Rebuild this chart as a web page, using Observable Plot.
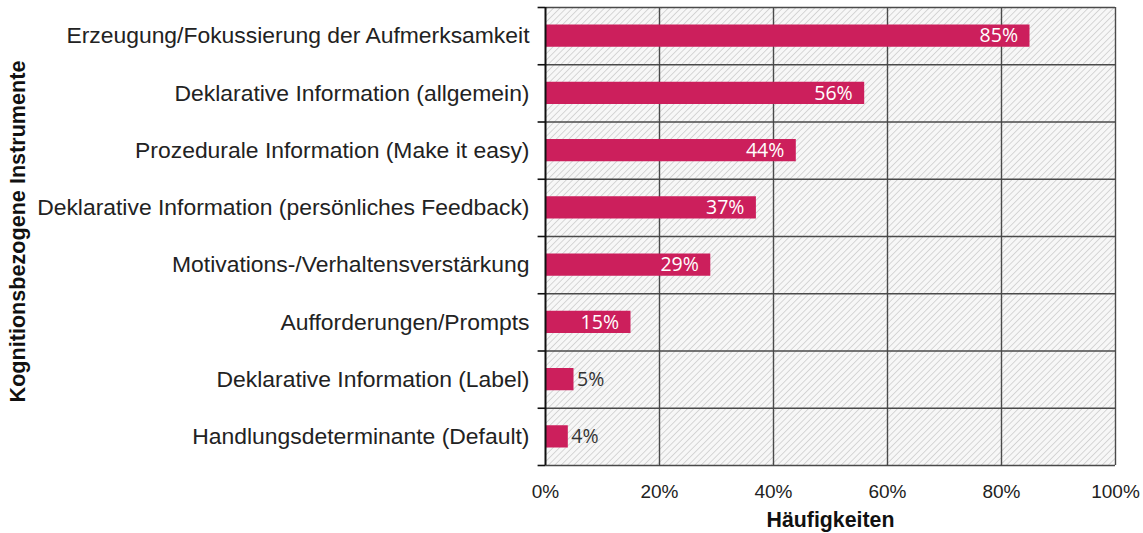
<!DOCTYPE html>
<html>
<head>
<meta charset="utf-8">
<script src="https://cdn.jsdelivr.net/npm/d3@7"></script>
<script src="https://cdn.jsdelivr.net/npm/@observablehq/plot@0.6"></script>
<style>
  html, body { margin: 0; padding: 0; background: #fff; }
  svg { display: block; }
</style>
</head>
<body>
<div id="chart"></div>
<script>
const categories = [
  "Erzeugung/Fokussierung der Aufmerksamkeit",
  "Deklarative Information (allgemein)",
  "Prozedurale Information (Make it easy)",
  "Deklarative Information (persönliches Feedback)",
  "Motivations-/Verhaltensverstärkung",
  "Aufforderungen/Prompts",
  "Deklarative Information (Label)",
  "Handlungsdeterminante (Default)"
];
const values = [85, 56, 44, 37, 29, 15, 5, 4];
const xTicks = [0, 20, 40, 60, 80, 100];
const xTitle = "Häufigkeiten";
const yTitle = "Kognitionsbezogene Instrumente";

const data = categories.map((c, i) => ({category: c, value: values[i], index: i}));
const boundaries = d3.range(categories.length + 1);
const centers = categories.map((c, i) => i + 0.5);

const barColor = "#cc1f5c";
const gridColor = "#4a4a4a";
const font = "'Liberation Sans', Arial, sans-serif";

const chart = Plot.plot({
  width: 1143,
  height: 533,
  marginLeft: 545,
  marginRight: 28,
  marginTop: 7,
  marginBottom: 68,
  style: {fontFamily: font, fontSize: "18px", color: "#222", background: "#fff"},
  x: {type: "linear", domain: [0, 100]},
  y: {type: "linear", domain: [0, categories.length], reverse: true},
  marks: [
    Plot.frame({fill: "url(#hatch)", stroke: "none"}),
    Plot.ruleX(xTicks.slice(1), {stroke: gridColor, strokeWidth: 1.4}),
    Plot.ruleY(boundaries, {stroke: gridColor, strokeWidth: 1.4}),
    Plot.ruleY(boundaries, {x1: -1.3, x2: 0, stroke: "#111", strokeWidth: 1.6}),
    Plot.rectX(data, {x1: 0, x2: "value", y1: "index", y2: d => d.index + 1, insetTop: 17.5, insetBottom: 17.5, fill: barColor}),
    Plot.ruleX([0], {stroke: "#111", strokeWidth: 2}),
    Plot.text(data.filter(d => d.value >= 15), {
      x: "value", y: d => d.index + 0.5, text: d => d.value + "%",
      textAnchor: "end", dx: -12, fill: "#fff",
      fontFamily: "'Open Sans', sans-serif", fontSize: 19.5
    }),
    Plot.text(data.filter(d => d.value < 15), {
      x: "value", y: d => d.index + 0.5, text: d => d.value + "%",
      textAnchor: "start", dx: 3, fill: "#333",
      fontFamily: "'Open Sans', sans-serif", fontSize: 19.5
    }),
    Plot.axisY(centers, {
      tickSize: 0, tickPadding: 16, label: null,
      tickFormat: d => categories[Math.floor(d)],
      fontSize: 22.9, fill: "#222"
    }),
    Plot.axisX(xTicks, {
      tickSize: 0, tickPadding: 19, label: null,
      tickFormat: d => d + "%", fontSize: 19, fill: "#222"
    }),
    Plot.text([xTitle], {frameAnchor: "bottom", textAnchor: "middle", dy: 61, fontWeight: "bold", fontSize: 21.3, fill: "#111"}),
    Plot.text([yTitle], {frameAnchor: "left", textAnchor: "middle", dx: -527, dy: -5, rotate: -90, fontWeight: "bold", fontSize: 21.6, fill: "#111"})
  ]
});

const ns = "http://www.w3.org/2000/svg";
const defs = document.createElementNS(ns, "defs");
defs.innerHTML = `<pattern id="hatch" patternUnits="userSpaceOnUse" width="4.5" height="4.5" patternTransform="rotate(45)">
  <rect width="4.5" height="4.5" fill="#f7f7f7"></rect>
  <line x1="0" y1="0" x2="0" y2="4.5" stroke="#c4c4c4" stroke-width="1.3"></line>
</pattern>`;
chart.insertBefore(defs, chart.firstChild);
document.getElementById("chart").appendChild(chart);
</script>
</body>
</html>
